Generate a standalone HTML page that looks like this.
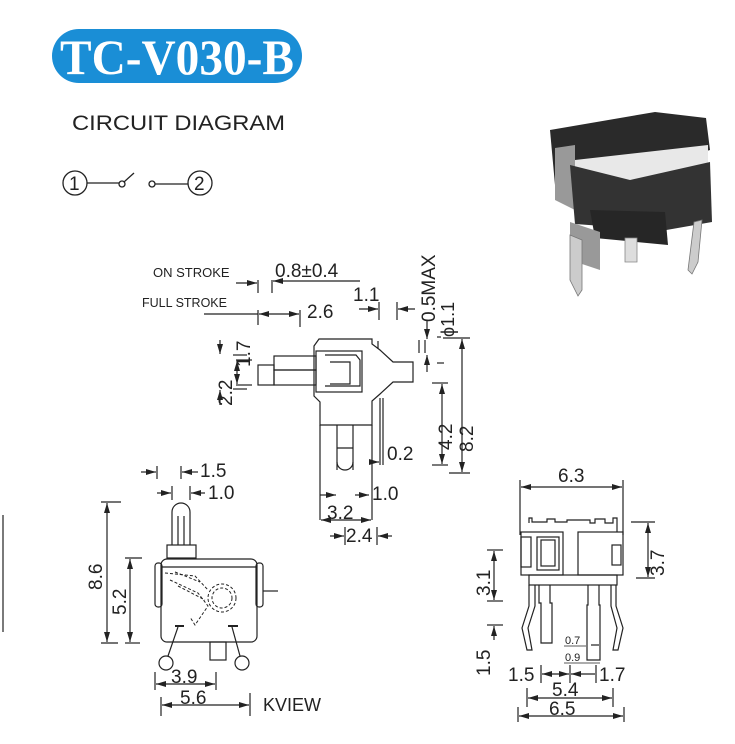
<!DOCTYPE html>
<html><head><meta charset="utf-8"><style>
html,body{margin:0;padding:0;background:#fff;width:735px;height:744px;overflow:hidden}
svg{display:block}
text{font-family:"Liberation Sans",sans-serif;fill:#222}
</style></head><body>
<svg width="735" height="744" viewBox="0 0 735 744" xmlns="http://www.w3.org/2000/svg">
<defs>
<marker id="a" viewBox="0 0 10 6" refX="10" refY="3" markerWidth="9" markerHeight="5" orient="auto-start-reverse"><path d="M0,0L10,3L0,6z" fill="#222"/></marker>
</defs>
<!-- title -->
<rect x="52" y="29" width="250" height="54" rx="27" fill="#1a8ed6"/>
<text x="177" y="74" text-anchor="middle" font-weight="bold" font-size="50" textLength="234" lengthAdjust="spacingAndGlyphs" style="fill:#fff;font-family:'Liberation Serif',serif">TC-V030-B</text>
<text x="72" y="130" font-size="21" textLength="213" lengthAdjust="spacingAndGlyphs">CIRCUIT DIAGRAM</text>
<!-- circuit -->
<g stroke="#222" stroke-width="1.3" fill="none">
<circle cx="75" cy="183" r="12"/><line x1="87" y1="183" x2="119" y2="183"/>
<circle cx="122" cy="184" r="3"/><line x1="124" y1="182" x2="134" y2="173"/>
<circle cx="152" cy="184" r="3"/><line x1="155" y1="184" x2="188" y2="184"/>
<circle cx="200" cy="183" r="12"/>
</g>
<text x="69" y="190" font-size="19">1</text><text x="194" y="190" font-size="19">2</text>
<!-- photo -->
<polygon points="550,130 655,112 706,118 710,150 660,165 555,185" fill="#2a2a2a"/>
<polygon points="555,148 575,145 575,210 555,200" fill="#999"/>
<polygon points="575,160 708,145 708,165 630,180 575,182" fill="#e8e8e8"/>
<polygon points="570,165 630,180 630,228 575,224" fill="#333"/>
<polygon points="630,180 710,162 712,222 655,232 630,228" fill="#333"/>
<polygon points="590,210 665,212 668,245 595,238" fill="#262626"/>
<polygon points="570,222 600,232 600,270 570,260" fill="#999"/>
<polygon points="570,235 582,240 582,290 578,296 570,280" fill="#ccc" stroke="#777" stroke-width="0.8"/>
<polygon points="625,238 637,238 637,262 625,262" fill="#ddd" stroke="#888" stroke-width="0.8"/>
<polygon points="694,222 702,220 698,262 692,274 688,270" fill="#ccc" stroke="#777" stroke-width="0.8"/>
<!-- side view -->
<g stroke="#222" stroke-width="1.2" fill="none">
<line x1="258" y1="280" x2="258" y2="293"/><line x1="272" y1="280" x2="272" y2="293"/>
<line x1="236" y1="283" x2="257" y2="283" marker-end="url(#a)"/>
<line x1="360" y1="281" x2="273" y2="281" marker-end="url(#a)"/>
<line x1="204" y1="314" x2="258" y2="314"/>
<line x1="258" y1="310" x2="258" y2="325"/><line x1="300" y1="310" x2="300" y2="327"/>
<line x1="259" y1="314" x2="299" y2="314" marker-start="url(#a)" marker-end="url(#a)"/>
<line x1="359" y1="309" x2="378" y2="309" marker-end="url(#a)"/>
<line x1="379" y1="302" x2="379" y2="320"/><line x1="397" y1="302" x2="397" y2="320"/>
<line x1="415" y1="309" x2="398" y2="309" marker-end="url(#a)"/>
<line x1="427" y1="320" x2="427" y2="339" marker-end="url(#a)"/>
<line x1="419" y1="340" x2="419" y2="353"/><line x1="425" y1="340" x2="425" y2="353"/>
<line x1="427" y1="372" x2="427" y2="355" marker-end="url(#a)"/>
<line x1="437" y1="337" x2="441" y2="337"/><line x1="437" y1="363" x2="444" y2="363"/>
<line x1="443" y1="338" x2="470" y2="338"/><line x1="449" y1="473" x2="470" y2="473"/>
<line x1="462" y1="339" x2="462" y2="472" marker-start="url(#a)" marker-end="url(#a)"/>
<line x1="432" y1="383" x2="448" y2="383"/><line x1="432" y1="465" x2="448" y2="465"/>
<line x1="442" y1="384" x2="442" y2="464" marker-start="url(#a)" marker-end="url(#a)"/>
<path d="M314,346 L319,339 L372,339 L372,344 L380,350 L393,362 L413,362 L413,382 L393,382 L380,394 L372,401 L372,425 L320,425 L320,402 L314,396 Z"/>
<line x1="378" y1="341" x2="378" y2="349"/>
<rect x="316" y="351" width="46" height="41"/>
<path d="M325,355 L356,355 L360,360 L360,386 L325,386"/>
<path d="M330,362 L350,362 L350,384 L330,384"/>
<rect x="258" y="365" width="16" height="20"/>
<rect x="274" y="356" width="42" height="14"/><rect x="274" y="370" width="42" height="15"/>
<line x1="380" y1="398" x2="380" y2="465"/><line x1="383" y1="398" x2="383" y2="465"/>
<line x1="320" y1="425" x2="320" y2="520"/><line x1="372" y1="425" x2="372" y2="520"/>
<line x1="337" y1="425" x2="337" y2="470"/><line x1="353" y1="425" x2="353" y2="470"/>
<path d="M337,448 L353,448 M337,462 A8,8 0 0 0 353,462"/>
<line x1="320" y1="495" x2="336" y2="495" marker-end="url(#a)"/>
<line x1="369" y1="495" x2="355" y2="495" marker-start="url(#a)"/>
<line x1="321" y1="520" x2="371" y2="520" marker-start="url(#a)" marker-end="url(#a)"/>
<line x1="345" y1="527" x2="345" y2="545"/><line x1="377" y1="527" x2="377" y2="545"/>
<line x1="330" y1="536" x2="344" y2="536" marker-end="url(#a)"/>
<line x1="392" y1="536" x2="378" y2="536" marker-end="url(#a)"/>
<line x1="370" y1="462" x2="379" y2="462" marker-end="url(#a)"/>
<line x1="233" y1="355" x2="247" y2="355"/><line x1="233" y1="389" x2="247" y2="389"/>
<line x1="220" y1="340" x2="220" y2="354" marker-end="url(#a)"/>
<line x1="220" y1="405" x2="220" y2="390" marker-end="url(#a)"/>
<line x1="236" y1="360" x2="252" y2="360"/><line x1="236" y1="385" x2="252" y2="385"/>
<line x1="237" y1="361" x2="237" y2="384" marker-start="url(#a)" marker-end="url(#a)"/>
</g>
<text x="153" y="277" font-size="13">ON STROKE</text>
<text x="275" y="277" font-size="19">0.8±0.4</text>
<text x="142" y="307" font-size="12.5">FULL STROKE</text>
<text x="307" y="318" font-size="19">2.6</text>
<text x="353" y="301" font-size="19">1.1</text>
<text transform="translate(435,322) rotate(-90)" font-size="19">0.5MAX</text>
<text transform="translate(454,337) rotate(-90)" font-size="18">ϕ1.1</text>
<text transform="translate(473,452) rotate(-90)" font-size="19">8.2</text>
<text transform="translate(452,450) rotate(-90)" font-size="19">4.2</text>
<text transform="translate(232,406) rotate(-90)" font-size="19">2.2</text>
<text transform="translate(250,367) rotate(-90)" font-size="19">1.7</text>
<text x="387" y="460" font-size="19">0.2</text>
<text x="372" y="500" font-size="19">1.0</text>
<text x="327" y="519" font-size="19">3.2</text>
<text x="346" y="542" font-size="19">2.4</text>
<!-- bottom-left view -->
<line x1="3" y1="515" x2="3" y2="632" stroke="#222" stroke-width="1.2"/>
<g stroke="#222" stroke-width="1.2" fill="none">
<line x1="141" y1="472" x2="156" y2="472" marker-end="url(#a)"/><line x1="157" y1="466" x2="157" y2="479"/>
<line x1="181" y1="466" x2="181" y2="479"/><line x1="198" y1="472" x2="182" y2="472" marker-end="url(#a)"/>
<line x1="157" y1="493" x2="171" y2="493" marker-end="url(#a)"/><line x1="172" y1="486" x2="172" y2="500"/>
<line x1="190" y1="486" x2="190" y2="500"/><line x1="205" y1="493" x2="191" y2="493" marker-end="url(#a)"/>
<path d="M172,545 L172,512 A9,9 0 0 1 190,512 L190,545"/>
<line x1="178" y1="516" x2="178" y2="545"/><line x1="184" y1="516" x2="184" y2="545"/>
<rect x="167" y="545" width="29" height="13"/>
<rect x="161" y="559" width="96" height="83" rx="6"/>
<line x1="162" y1="567" x2="256" y2="567"/>
<rect x="155" y="563" width="7" height="44" rx="3"/><rect x="256" y="563" width="7" height="44" rx="3"/>
<line x1="263" y1="591" x2="278" y2="591"/>
<rect x="210" y="642" width="16" height="18"/>
<g stroke-dasharray="3,2" stroke-width="1">
<circle cx="222" cy="598" r="14"/><circle cx="222" cy="598" r="10"/>
<path d="M165,573 L195,576 L208,590 M170,580 L198,593 L208,606 L195,625 L190,617"/>
<path d="M175,572 L200,582 M178,586 L205,600"/>
</g>
<line x1="175" y1="626" x2="184" y2="626" stroke-width="2"/><line x1="228" y1="626" x2="238" y2="626" stroke-width="2"/>
<line x1="178" y1="627" x2="168" y2="656"/><line x1="232" y1="627" x2="240" y2="656"/>
<circle cx="166" cy="663" r="7"/><circle cx="242" cy="663" r="7"/>
<line x1="101" y1="502" x2="121" y2="502"/><line x1="101" y1="643" x2="118" y2="643"/>
<line x1="107" y1="503" x2="107" y2="642" marker-start="url(#a)" marker-end="url(#a)"/>
<line x1="125" y1="558" x2="142" y2="558"/><line x1="125" y1="643" x2="140" y2="643"/>
<line x1="130" y1="559" x2="130" y2="642" marker-start="url(#a)" marker-end="url(#a)"/>
<line x1="155" y1="672" x2="155" y2="690"/><line x1="216" y1="672" x2="216" y2="690"/>
<line x1="156" y1="684" x2="215" y2="684" marker-start="url(#a)" marker-end="url(#a)"/>
<line x1="161" y1="697" x2="161" y2="716"/><line x1="250" y1="693" x2="250" y2="716"/>
<line x1="162" y1="705" x2="249" y2="705" marker-start="url(#a)" marker-end="url(#a)"/>
</g>
<text x="200" y="477" font-size="19">1.5</text>
<text x="208" y="499" font-size="19">1.0</text>
<text transform="translate(102,590) rotate(-90)" font-size="19">8.6</text>
<text transform="translate(126,615) rotate(-90)" font-size="19">5.2</text>
<text x="171" y="683" font-size="19">3.9</text>
<text x="180" y="704" font-size="19">5.6</text>
<text x="263" y="711" font-size="18">KVIEW</text>
<!-- bottom-right view -->
<g stroke="#222" stroke-width="1.2" fill="none">
<line x1="520" y1="480" x2="520" y2="535"/><line x1="623" y1="480" x2="623" y2="535"/>
<line x1="521" y1="487" x2="622" y2="487" marker-start="url(#a)" marker-end="url(#a)"/>
<path d="M529,523 L529,518 L532,518 L532,522 L547,522 L547,519 L555,519 L555,522 L567,522 L567,520 L590,520 L590,523 L595,523 L595,519 L605,519 L605,523 L613,523 L613,518 L617,518 L617,532"/>
<rect x="521" y="532" width="42" height="43"/>
<rect x="537" y="537" width="22" height="33"/><rect x="541" y="540" width="14" height="26"/>
<rect x="521" y="537" width="10" height="30"/>
<rect x="578" y="532" width="45" height="43"/><rect x="612" y="545" width="9" height="20"/>
<rect x="529" y="575" width="88" height="10"/>
<path d="M529,585 L529,606 L522,628 L527,650 L532,650 L528,628 L535,606 L535,585"/>
<path d="M539,585 L539,603 L541,603 L541,643 L552,643 L552,603 L550,603 L550,585"/>
<path d="M588,585 L588,605 L587,605 L587,660 L600,660 L600,605 L599,605 L599,585"/>
<path d="M611,585 L611,606 L617,628 L613,650 L618,650 L623,628 L616,606 L616,585"/>
<line x1="591" y1="645" x2="599" y2="645"/>
<line x1="564" y1="646" x2="586" y2="646" stroke-width="0.8"/><line x1="564" y1="663" x2="600" y2="663" stroke-width="0.8"/>
<line x1="631" y1="522" x2="655" y2="522"/><line x1="636" y1="578" x2="655" y2="578"/>
<line x1="648" y1="523" x2="648" y2="577" marker-start="url(#a)" marker-end="url(#a)"/>
<line x1="487" y1="550" x2="503" y2="550"/><line x1="487" y1="601" x2="503" y2="601"/>
<line x1="494" y1="551" x2="494" y2="600" marker-start="url(#a)" marker-end="url(#a)"/>
<line x1="487" y1="625" x2="503" y2="625"/>
<line x1="494" y1="640" x2="494" y2="626" marker-end="url(#a)"/>
<line x1="541" y1="665" x2="541" y2="683"/><line x1="570" y1="665" x2="570" y2="683"/><line x1="596" y1="665" x2="596" y2="683"/>
<line x1="542" y1="674" x2="569" y2="674" marker-start="url(#a)" marker-end="url(#a)"/>
<line x1="571" y1="674" x2="595" y2="674" marker-start="url(#a)"/>
<line x1="527" y1="688" x2="527" y2="707"/><line x1="613" y1="688" x2="613" y2="707"/>
<line x1="528" y1="698" x2="612" y2="698" marker-start="url(#a)" marker-end="url(#a)"/>
<line x1="518" y1="707" x2="518" y2="722"/><line x1="624" y1="707" x2="624" y2="722"/>
<line x1="519" y1="716" x2="623" y2="716" marker-start="url(#a)" marker-end="url(#a)"/>
</g>
<text x="558" y="482" font-size="19">6.3</text>
<text transform="translate(664,576) rotate(-90)" font-size="19">3.7</text>
<text transform="translate(490,596) rotate(-90)" font-size="19">3.1</text>
<text transform="translate(490,676) rotate(-90)" font-size="19">1.5</text>
<text x="565" y="644" font-size="11">0.7</text>
<text x="565" y="661" font-size="11">0.9</text>
<text x="508" y="681" font-size="19">1.5</text>
<text x="599" y="681" font-size="19">1.7</text>
<text x="552" y="696" font-size="19">5.4</text>
<text x="549" y="715" font-size="19">6.5</text>
</svg>
</body></html>
